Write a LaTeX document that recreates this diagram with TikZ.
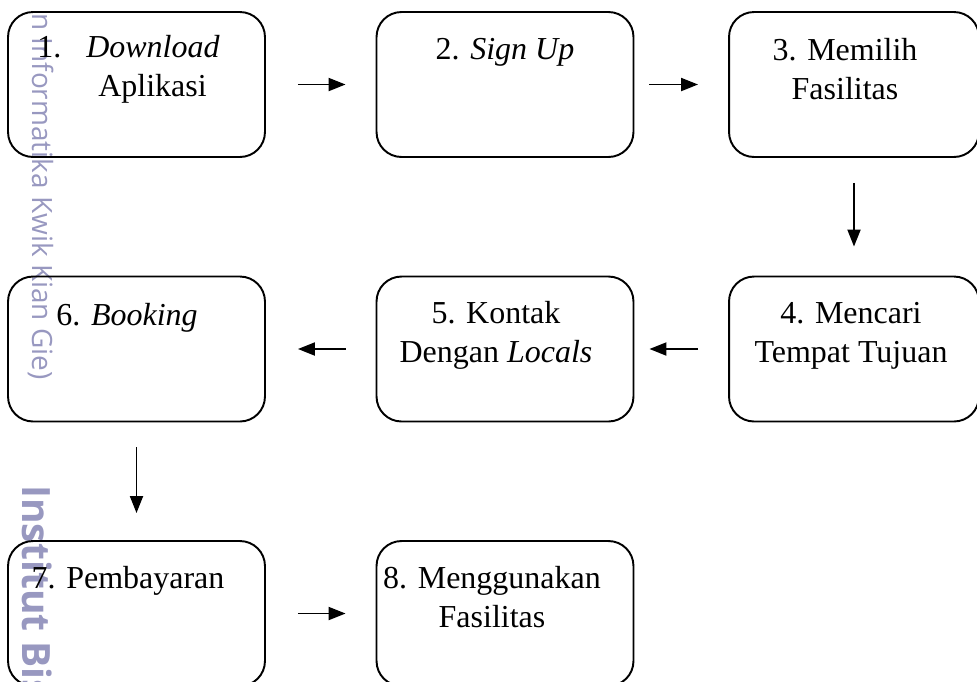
\documentclass[tikz,border=0pt]{standalone}
\usepackage{fontspec}
\setmainfont{Liberation Serif}
\newfontfamily\wmfont{Open Sans}
\usepackage{xcolor}
\usepackage{tikz}
\usetikzlibrary{arrows.meta}

\definecolor{wmgrey}{RGB}{152,152,192}

\tikzset{
    stepbox/.style={draw, line width=1.1pt, rounded corners=0.5cm,
        minimum width=5.14cm, minimum height=2.9cm, inner sep=0pt},
    steptext/.style={anchor=north, align=center, inner sep=0pt,
        font=\fontsize{18.2pt}{22.2pt}\selectfont},
    flow/.style={line width=1.1pt, -{Triangle[length=0.34cm, width=0.26cm]}},
    wmtext/.style={rotate=-90, inner sep=0pt, text=wmgrey}
}

\begin{document}
\begin{tikzpicture}[x=0.02cm, y=-0.02cm]
    % Here I fix the page size
    \useasboundingbox (0,0) rectangle (977,681);
    \clip (0,0) rectangle (977,681);

    % watermark on the left side
    \node[wmtext, anchor=base east, font=\wmfont\fontsize{15.9pt}{18pt}\selectfont]
        (wmtop) at (32,380) {n Informatika Kwik Kian Gie)};
    \node[wmtext, anchor=base west, font=\wmfont\bfseries\fontsize{22.2pt}{26pt}\selectfont]
        (wmbottom) at (22,485) {Institut Bis};

    % Here I use rounded boxes for the steps
    \node[stepbox] (s1) at (136.5,84.5) {};
    \node[stepbox] (s2) at (505,84.5) {};
    \node[stepbox, minimum width=5cm] (s3) at (854,84.5) {};
    \node[stepbox, minimum width=5cm] (s4) at (854,349) {};
    \node[stepbox] (s5) at (505,349) {};
    \node[stepbox] (s6) at (136.5,349) {};
    \node[stepbox] (s7) at (136.5,613.5) {};
    \node[stepbox] (s8) at (505,613.5) {};

    % using node for text
    \node[steptext, anchor=north west, align=left] (t1) at (37,29.7)
        {\strut1.\hspace{0.5cm}\textit{Download}\\\hspace*{1.22cm}Aplikasi};
    \node[steptext] (t2) at (505,31.7) {\strut2. \textit{Sign Up}};
    \node[steptext] (t3) at (845,32.7) {\strut3. Memilih\\Fasilitas};
    \node[steptext] (t4) at (851,295.7) {\strut4. Mencari\\Tempat Tujuan};
    \node[steptext] (t5) at (496,295.7) {\strut5. Kontak\\Dengan \textit{Locals}};
    \node[steptext] (t6) at (127,297.7) {\strut6. \textit{Booking}};
    \node[steptext] (t7) at (128,560.7) {\strut7. Pembayaran};
    \node[steptext] (t8) at (492,560.7) {\strut8. Menggunakan\\Fasilitas};

    % arrows between the steps
    \draw[flow, shorten <=0.64cm, shorten >=0.6cm] (s1.east) -- (s2.west);
    \draw[flow, shorten <=0.3cm, shorten >=0.6cm] (s2.east) -- (s3.west);
    \draw[flow, shorten <=0.5cm, shorten >=0.58cm] (s3.south) -- (s4.north);
    \draw[flow, shorten <=0.6cm, shorten >=0.3cm] (s4.west) -- (s5.east);
    \draw[flow, shorten <=0.6cm, shorten >=0.64cm] (s5.west) -- (s6.east);
    \draw[flow, shorten <=0.5cm, shorten >=0.54cm] (s6.south) -- (s7.north);
    \draw[flow, shorten <=0.64cm, shorten >=0.6cm] (s7.east) -- (s8.west);
\end{tikzpicture}
\end{document}
